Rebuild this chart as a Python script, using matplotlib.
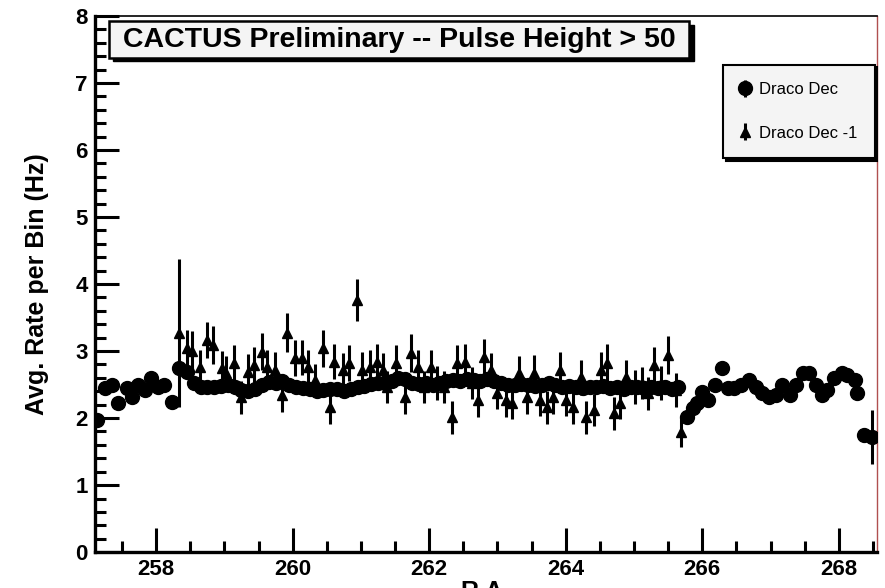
import numpy as np
import matplotlib
matplotlib.use('Agg')
import matplotlib.pyplot as plt
from matplotlib.patches import Rectangle
from matplotlib.ticker import MultipleLocator

plt.rcParams['font.family'] = ['Liberation Sans', 'DejaVu Sans']

# Draco Dec (circles)
ra_dec = [257.13, 257.25, 257.35, 257.44, 257.57, 257.64, 257.73, 257.83, 257.93, 258.02,
          258.12, 258.23, 258.34, 258.45,
          258.55, 258.65, 258.75, 258.85, 258.95, 259.05, 259.15, 259.25, 259.35, 259.45,
          259.55, 259.65, 259.75, 259.85, 259.95, 260.05, 260.15, 260.25, 260.35, 260.45,
          260.55, 260.65, 260.75, 260.85, 260.95, 261.05, 261.15, 261.25, 261.35, 261.45,
          261.55, 261.65, 261.75, 261.85, 261.95, 262.05, 262.15, 262.25, 262.35, 262.45,
          262.55, 262.65, 262.75, 262.85, 262.95, 263.05, 263.15, 263.25, 263.35, 263.45,
          263.55, 263.65, 263.75, 263.85, 263.95, 264.05, 264.15, 264.25, 264.35, 264.45,
          264.55, 264.65, 264.75, 264.85, 264.95, 265.05, 265.15, 265.25, 265.35, 265.45,
          265.55, 265.65,
          265.77, 265.86, 265.93, 266.00, 266.08, 266.18, 266.29, 266.37, 266.47, 266.57,
          266.69, 266.79, 266.88, 266.98, 267.08, 267.17, 267.28, 267.38, 267.47, 267.57,
          267.67, 267.76, 267.83, 267.93, 268.04, 268.12, 268.23, 268.27, 268.37, 268.49]
rate_dec = [1.97, 2.45, 2.49, 2.22, 2.45, 2.31, 2.49, 2.42, 2.60, 2.46,
            2.49, 2.24, 2.75, 2.69,
            2.52, 2.47, 2.46, 2.47, 2.48, 2.49, 2.46, 2.42, 2.41, 2.44,
            2.50, 2.54, 2.53, 2.55, 2.50, 2.47, 2.45, 2.43, 2.41, 2.42,
            2.44, 2.43, 2.41, 2.44, 2.46, 2.48, 2.51, 2.53, 2.52, 2.55,
            2.60, 2.58, 2.53, 2.51, 2.52, 2.50, 2.53, 2.55, 2.57, 2.56,
            2.58, 2.57, 2.56, 2.58, 2.55, 2.52, 2.50, 2.49, 2.51, 2.50,
            2.48, 2.50, 2.52, 2.49, 2.47, 2.48, 2.46, 2.45, 2.47, 2.46,
            2.48, 2.45, 2.46, 2.44, 2.47, 2.46, 2.45, 2.47, 2.45, 2.46,
            2.44, 2.46,
            2.01, 2.15, 2.22, 2.39, 2.27, 2.49, 2.74, 2.45, 2.45, 2.49,
            2.57, 2.46, 2.37, 2.31, 2.34, 2.49, 2.34, 2.49, 2.67, 2.67,
            2.49, 2.34, 2.42, 2.60, 2.67, 2.64, 2.57, 2.37, 1.75, 1.72]
err_dec = [0.06] * (len(rate_dec) - 1) + [0.40]

# Draco Dec -1 (triangles)
ra_dec1 = [258.34, 258.45, 258.53, 258.64, 258.74, 258.83, 258.96, 259.03, 259.14, 259.25,
           259.34, 259.44, 259.55, 259.62, 259.74, 259.84, 259.91, 260.03, 260.13, 260.22,
           260.32, 260.44, 260.54, 260.61, 260.73, 260.83, 260.94, 261.02, 261.13, 261.23,
           261.32, 261.38, 261.52, 261.64, 261.73, 261.83, 261.93, 262.03, 262.12, 262.22,
           262.33, 262.41, 262.52, 262.62, 262.71, 262.81, 262.91, 263.00, 263.12, 263.22,
           263.31, 263.43, 263.53, 263.62, 263.72, 263.81, 263.91, 264.01, 264.10, 264.22,
           264.30, 264.41, 264.51, 264.60, 264.70, 264.80, 264.89, 265.01, 265.11, 265.20,
           265.30, 265.40, 265.50, 265.61, 265.69]
rate_dec1 = [3.27, 3.04, 3.00, 2.76, 3.16, 3.09, 2.74, 2.67, 2.82, 2.31,
             2.69, 2.79, 2.99, 2.76, 2.72, 2.34, 3.27, 2.90, 2.90, 2.76,
             2.57, 3.04, 2.16, 2.84, 2.72, 2.82, 3.76, 2.72, 2.76, 2.84,
             2.72, 2.46, 2.82, 2.31, 2.97, 2.76, 2.46, 2.76, 2.52, 2.46,
             2.01, 2.82, 2.84, 2.52, 2.27, 2.91, 2.72, 2.37, 2.27, 2.22,
             2.67, 2.31, 2.67, 2.27, 2.16, 2.31, 2.72, 2.27, 2.16, 2.61,
             2.01, 2.12, 2.72, 2.82, 2.07, 2.22, 2.61, 2.46, 2.52, 2.37,
             2.79, 2.52, 2.94, 2.42, 1.79]
err_dec1 = [1.10, 0.28, 0.30, 0.25, 0.27, 0.28, 0.26, 0.25, 0.27, 0.25,
            0.26, 0.27, 0.28, 0.25, 0.26, 0.25, 0.29, 0.27, 0.26, 0.25,
            0.24, 0.28, 0.25, 0.26, 0.25, 0.27, 0.31, 0.26, 0.25, 0.26,
            0.25, 0.24, 0.27, 0.25, 0.28, 0.25, 0.24, 0.26, 0.25, 0.24,
            0.25, 0.27, 0.26, 0.24, 0.25, 0.27, 0.25, 0.24, 0.25, 0.24,
            0.26, 0.25, 0.27, 0.24, 0.25, 0.25, 0.26, 0.24, 0.25, 0.26,
            0.25, 0.24, 0.27, 0.28, 0.25, 0.24, 0.26, 0.25, 0.24, 0.25,
            0.27, 0.25, 0.29, 0.25, 0.22]

fig = plt.figure(figsize=(8.85, 5.88), dpi=100)
ax = fig.add_axes([0.107, 0.061, 0.884, 0.912])

ax.errorbar(ra_dec1, rate_dec1, yerr=err_dec1, fmt='^', color='black', ms=7,
            elinewidth=2.2, capsize=0, label='Draco Dec -1', zorder=3)
ax.errorbar(ra_dec, rate_dec, yerr=err_dec, fmt='o', color='black', ms=10,
            elinewidth=2.2, capsize=0, label='Draco Dec', zorder=4)

ax.set_xlim(257.1, 268.56)
ax.set_ylim(0, 8)
ax.xaxis.set_major_locator(MultipleLocator(2))
ax.xaxis.set_minor_locator(MultipleLocator(0.5))
ax.yaxis.set_major_locator(MultipleLocator(1))
ax.yaxis.set_minor_locator(MultipleLocator(0.2))
ax.tick_params(which='major', direction='in', length=17, width=2.2,
               labelsize=16, pad=5)
ax.tick_params(which='minor', direction='in', length=8, width=2.2)
for lab in ax.get_xticklabels() + ax.get_yticklabels():
    lab.set_fontweight('bold')

for s in ['left', 'bottom']:
    ax.spines[s].set_linewidth(2.4)
ax.spines['top'].set_linewidth(1.2)
ax.spines['right'].set_linewidth(1.0)
ax.spines['right'].set_color('#b05050')

ax.set_ylabel('Avg. Rate per Bin (Hz)', fontsize=18, fontweight='bold', labelpad=19)
ax.set_xlabel('R.A.', fontsize=18, fontweight='bold', labelpad=0)

# title box with shadow
ax.add_patch(Rectangle((0.024, 0.915), 0.742, 0.068, transform=ax.transAxes,
                       facecolor='black', edgecolor='black', zorder=5, clip_on=False))
ax.add_patch(Rectangle((0.018, 0.922), 0.742, 0.068, transform=ax.transAxes,
                       facecolor='#f4f4f4', edgecolor='black', lw=1.8, zorder=6, clip_on=False))
ax.text(0.389, 0.955, 'CACTUS Preliminary -- Pulse Height > 50', transform=ax.transAxes,
        ha='center', va='center', fontsize=20.5, fontweight='bold', zorder=7)

handles, labels = ax.get_legend_handles_labels()
leg = ax.legend(handles[::-1], labels[::-1], loc='upper left',
                bbox_to_anchor=(0.803, 0.909), fontsize=12, frameon=True,
                fancybox=False, shadow={'facecolor': 'black', 'edgecolor': 'black', 'alpha': 1},
                facecolor='#f4f4f4', edgecolor='black', framealpha=1,
                borderpad=1.05, labelspacing=1.7, handlelength=0.5, handletextpad=0.6,
                borderaxespad=0)
leg.get_frame().set_linewidth(1.5)

fig.savefig('out.png', dpi=100)
